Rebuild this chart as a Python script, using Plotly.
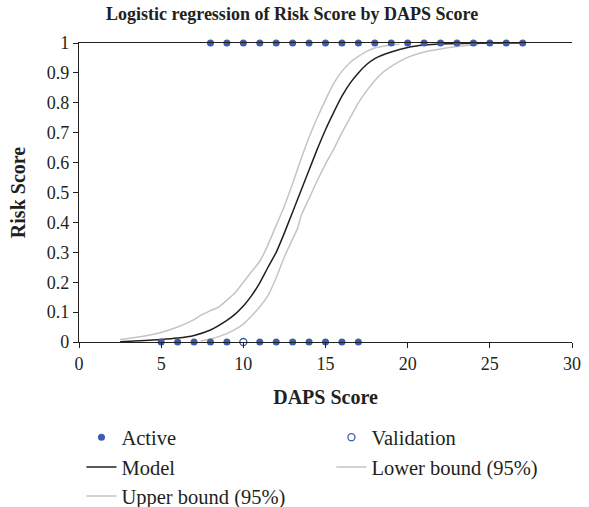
import plotly.graph_objects as go

# ---- data ----
active_top_x = [8, 9, 10, 11, 12, 13, 14, 15, 16, 17, 18, 19, 20, 21, 22, 23, 24, 25, 26, 27]
active_top_y = [1] * len(active_top_x)
active_bottom_x = [5, 6, 7, 8, 9, 11, 12, 13, 14, 15, 16, 17]
active_bottom_y = [0] * len(active_bottom_x)
validation_x = [10]
validation_y = [0]

model_x = [2.5, 4, 5, 6, 7, 8, 9, 9.5, 10, 10.5, 11, 11.5, 12, 12.5, 13, 13.5, 14, 14.5, 15,
           15.5, 16, 16.5, 17, 17.5, 18, 19, 20, 21, 22, 24, 27]
model_y = [0.001, 0.005, 0.008, 0.013, 0.022, 0.04, 0.072, 0.093, 0.12, 0.155, 0.198, 0.25, 0.30,
           0.365, 0.435, 0.505, 0.575, 0.645, 0.71, 0.768, 0.822, 0.866, 0.90, 0.928, 0.948,
           0.97, 0.985, 0.993, 0.997, 0.999, 1.0]

upper_x = [2.5, 4, 5, 6, 7, 7.4, 8, 8.5, 9, 9.5, 10, 10.5, 11, 11.5, 12, 12.5, 13, 13.5, 14,
           14.5, 15, 15.5, 16, 16.5, 17, 17.5, 18, 19, 19.5]
upper_y = [0.008, 0.02, 0.032, 0.05, 0.075, 0.089, 0.105, 0.117, 0.14, 0.165, 0.2, 0.235, 0.27,
           0.325, 0.39, 0.455, 0.53, 0.61, 0.685, 0.75, 0.81, 0.865, 0.905, 0.935, 0.955,
           0.972, 0.983, 0.993, 0.996]

lower_x = [7.4, 8, 8.5, 9, 9.5, 10, 10.5, 11, 11.5, 12, 12.5, 13, 13.3, 13.5, 14, 14.5, 15,
           15.5, 16, 16.5, 17, 17.5, 18, 18.5, 19, 20, 21, 22, 23, 24.3]
lower_y = [0.003, 0.01, 0.018, 0.028, 0.042, 0.06, 0.087, 0.118, 0.155, 0.215, 0.285, 0.345,
           0.38, 0.42, 0.48, 0.54, 0.595, 0.645, 0.70, 0.75, 0.80, 0.84, 0.875, 0.902, 0.922,
           0.952, 0.97, 0.98, 0.988, 0.995]

x_ticks = [0, 5, 10, 15, 20, 25, 30]
y_ticks = [0, 0.1, 0.2, 0.3, 0.4, 0.5, 0.6, 0.7, 0.8, 0.9, 1]
y_tick_text = ["0", "0.1", "0.2", "0.3", "0.4", "0.5", "0.6", "0.7", "0.8", "0.9", "1"]

FONT = "Liberation Serif"
BLUE = "#3b5cb0"
GRAY = "#c4c4c4"
INK = "#231f20"

fig = go.Figure()

fig.add_trace(go.Scatter(x=upper_x, y=upper_y, mode="lines", name="Upper bound (95%)",
                         line=dict(color=GRAY, width=1.5, shape="spline", smoothing=0.5),
                         legend="legend5"))
fig.add_trace(go.Scatter(x=lower_x, y=lower_y, mode="lines", name="Lower bound (95%)",
                         line=dict(color=GRAY, width=1.5, shape="spline", smoothing=0.5),
                         legend="legend4"))
fig.add_trace(go.Scatter(x=model_x, y=model_y, mode="lines", name="Model",
                         line=dict(color=INK, width=1.5, shape="spline", smoothing=0.5),
                         legend="legend3"))
fig.add_trace(go.Scatter(x=active_top_x + active_bottom_x, y=active_top_y + active_bottom_y,
                         mode="markers", name="Active",
                         marker=dict(color=BLUE, size=7, line=dict(width=0)),
                         cliponaxis=False, legend="legend"))
fig.add_trace(go.Scatter(x=validation_x, y=validation_y, mode="markers", name="Validation",
                         marker=dict(color="white", size=7, line=dict(color=BLUE, width=1.3)),
                         cliponaxis=False, legend="legend2"))

def leg(x, y):
    return dict(x=x, y=y, orientation="h", xanchor="left", yanchor="middle",
                font=dict(family=FONT, size=20.5, color=INK), bgcolor="rgba(0,0,0,0)",
                itemwidth=30)

COL1, COL2 = 0.005, 0.512
ROW1, ROW2, ROW3 = -0.319, -0.419, -0.516

fig.update_layout(
    width=589, height=507,
    margin=dict(l=79, r=17, t=43, b=165, autoexpand=False),
    paper_bgcolor="white", plot_bgcolor="white",
    font=dict(family=FONT, color=INK),
    title=dict(text="<b>Logistic regression of Risk Score by DAPS Score</b>",
               x=0.496, xanchor="center", y=0.972, yanchor="middle",
               font=dict(family=FONT, size=18, color=INK)),
    showlegend=True,
    legend=leg(COL1, ROW1),
    legend2=leg(COL2, ROW1),
    legend3=leg(COL1, ROW2),
    legend4=leg(COL2, ROW2),
    legend5=leg(COL1, ROW3),
    xaxis=dict(range=[0, 30], tickvals=x_ticks, ticks="outside", ticklen=5, tickcolor=INK,
               showline=True, linecolor=INK, linewidth=1.2, mirror=True, showgrid=False,
               zeroline=False, automargin=False, tickfont=dict(family=FONT, size=18, color=INK),
               title=dict(text="<b>DAPS Score</b>", font=dict(family=FONT, size=20, color=INK),
                          standoff=17)),
    yaxis=dict(range=[0, 1], tickvals=y_ticks, ticktext=y_tick_text, ticks="outside", ticklen=5,
               tickcolor=INK, showline=True, linecolor=INK, linewidth=1.2, showgrid=False,
               zeroline=False, automargin=False, tickfont=dict(family=FONT, size=18, color=INK),
               title=dict(text="<b>Risk Score</b>", font=dict(family=FONT, size=20, color=INK),
                          standoff=15)),
)

fig.write_html("out.html", config={"displayModeBar": False},
               post_script="document.body.style.margin='0';")
